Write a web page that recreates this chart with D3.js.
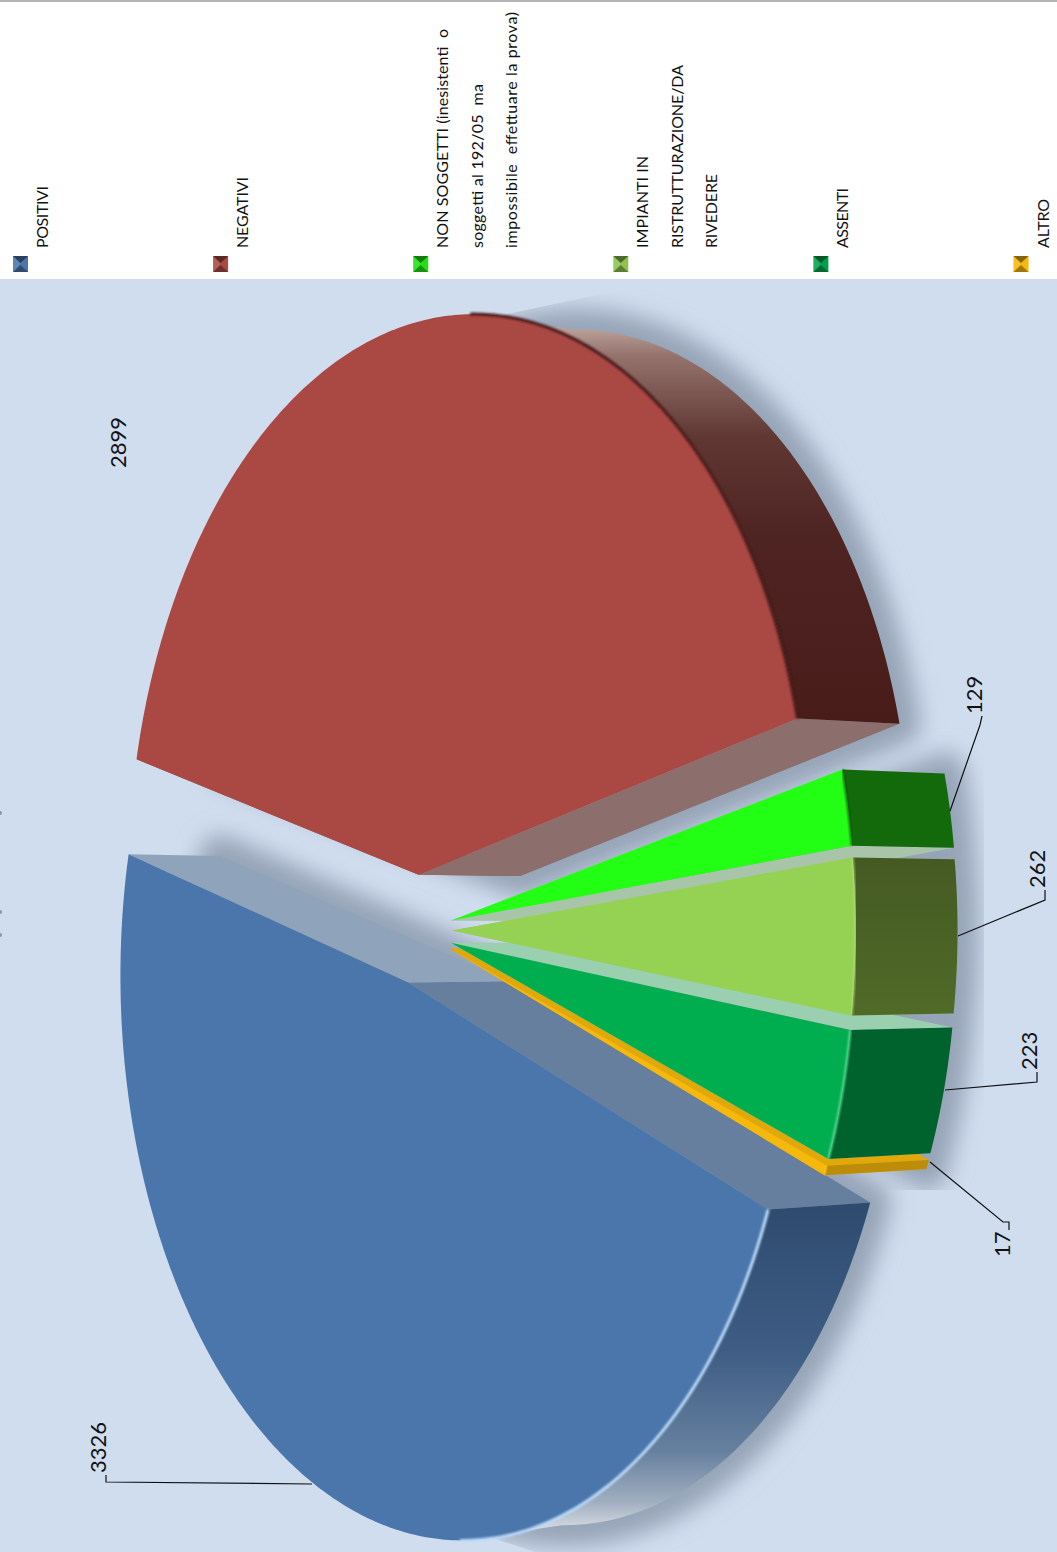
<!DOCTYPE html>
<html lang="it">
<head>
<meta charset="utf-8">
<title>Prove</title>
<script src="https://d3js.org/d3.v7.min.js"></script>
<style>
  html, body { margin: 0; padding: 0; background: #fff; }
  svg { display: block; }
  text { font-family: Lato, "Open Sans", sans-serif; fill: #111; }
</style>
</head>
<body>
<svg width="1057" height="1552"></svg>
<script>
// data
const categories = ['POSITIVI', 'NEGATIVI', 'NON SOGGETTI', 'IMPIANTI', 'ASSENTI', 'ALTRO'];
const values = [3326, 2899, 129, 262, 223, 17];
const legendLines = [
  ['POSITIVI'],
  ['NEGATIVI'],
  ['NON SOGGETTI (inesistenti  o', 'soggetti al 192/05  ma', 'impossibile  effettuare la prova)'],
  ['IMPIANTI IN', 'RISTRUTTURAZIONE/DA', 'RIVEDERE'],
  ['ASSENTI'],
  ['ALTRO']
];
// measured run of each legend line, the original font is wider than Lato
const legendLengths = [[62], [71], [219, 164, 236], [92, 183, 74], [60], [49]];

// colours per slice
const topColors  = ['#4a76ab', '#aa4844', '#22ff14', '#95d152', '#00ad4f', '#f6b80c'];
const wallColors = ['url(#wallBlue)', 'url(#wallRed)', '#136a0b', 'url(#wallImp)', '#00622c', '#bd8c08'];
const rimColors  = ['#bcdafa', '#4a1c1a', '#0f5a08', '#b9e37e', '#62e69c', '#ffd94a'];
const rimWidths  = [3, 3, 2, 1.5, 2, 1];
const swatchColors = ['#4a76ab', '#aa4844', '#22e014', '#8fc24e', '#00a04a', '#f6b80c'];
// the two cut faces of each slice: [start edge, end edge]
const cutColors = [
  ['#667f9f', '#8fa3bb'],
  ['#8c6e6c', '#8c6e6c'],
  ['#a9c5a9', '#a9c5a9'],
  ['#aac8a0', '#aac8a0'],
  ['#9ad0b0', '#9ad0b0'],
  ['#e0a80a', '#e0a80a']
];
// small slices are stacked so that the faces hide the right way
const drawOrder = [0, 1, 5, 4, 2, 3];

const svg = d3.select('svg');
const W = 1057, H = 1552, bandH = 278;

// projection of the tilted pie, fitted on the picture
const cx = 418, cy = 930;
const A = 333, B = 553, k = 0.148;
const explode = 0.1;
const depth = 102, shrink = 0.975;

const rad = d => d * Math.PI / 180;
const pie = d3.pie().sort(null).startAngle(rad(110)).endAngle(rad(470))(values);
const line = d3.line();

function project(sl, r, a) {
  const mid = (sl.startAngle + sl.endAngle) / 2;
  const u = explode * Math.sin(mid) + r * Math.sin(a);
  const v = -explode * Math.cos(mid) - r * Math.cos(a);
  const w = 1 - k * u;
  return [cx + A * u / w, cy + B * v / w];
}
function lower(p) {
  const dx = p[0] - cx;
  return [cx + dx + depth + 0.035 * Math.min(dx, 0), cy + (p[1] - cy) * shrink];
}
function anglesOf(sl) {
  const n = Math.max(6, Math.round((sl.endAngle - sl.startAngle) * 90));
  return d3.range(n + 1).map(i => sl.startAngle + (sl.endAngle - sl.startAngle) * i / n);
}
const rimOf = sl => anglesOf(sl).map(a => project(sl, 1, a));
// only the part of the rim that faces the viewer has an outer wall
const frontRimOf = sl => anglesOf(sl).filter(a => Math.sin(a) > 0.15).map(a => project(sl, 1, a));
const closed = pts => line(pts) + 'Z';

// background
svg.append('rect').attr('width', W).attr('height', H).attr('fill', '#fff');
svg.append('rect').attr('width', W).attr('height', 2).attr('fill', '#b4b4b4');
svg.append('rect').attr('y', bandH + 1).attr('width', W).attr('height', H - bandH).attr('fill', '#d0ddef');

// what is left of the cut off title at the page edge
svg.append('g').selectAll('circle').data([813, 912, 935]).join('circle')
  .attr('cx', 0).attr('cy', d => d).attr('r', 2).attr('fill', '#8a93a0');

const defs = svg.append('defs');
defs.append('filter').attr('id', 'blur').attr('x', '-20%').attr('y', '-20%').attr('width', '140%').attr('height', '140%')
  .append('feGaussianBlur').attr('stdDeviation', 11);
defs.append('filter').attr('id', 'soft').attr('x', '-5%').attr('y', '-5%').attr('width', '110%').attr('height', '110%')
  .append('feGaussianBlur').attr('stdDeviation', 0.9);
defs.append('clipPath').attr('id', 'plotClip').append('rect')
  .attr('y', bandH + 1).attr('width', W).attr('height', H - bandH);
defs.append('clipPath').attr('id', 'smallClip').append('rect')
  .attr('x', 440).attr('y', 720).attr('width', 544).attr('height', 470);
// the big shadow stops hard along the tangents at top and bottom
defs.append('clipPath').attr('id', 'bigClip').append('path')
  .attr('d', 'M503,315L670,279L1057,279L1057,1552L535,1552L490,1537L150,880L150,810L450,500Z');

function gradient(id, y1, y2, stops) {
  const g = defs.append('linearGradient').attr('id', id)
    .attr('gradientUnits', 'userSpaceOnUse')
    .attr('x1', 0).attr('x2', 0).attr('y1', y1).attr('y2', y2);
  stops.forEach(s => g.append('stop').attr('offset', s[0]).attr('stop-color', s[1]));
}
gradient('wallBlue', 1200, 1535, [[0, '#2e4a6e'], [0.45, '#3e5d84'], [0.75, '#66809f'], [0.9, '#a0aec0'], [1, '#dfe2e6']]);
gradient('wallRed', 315, 720, [[0, '#cdb6ae'], [0.1, '#95736d'], [0.3, '#603733'], [0.55, '#4e2422'], [1, '#481c19']]);
gradient('wallImp', 858, 1014, [[0, '#445a22'], [1, '#506a28']]);

// shadows of the lower faces
const shadow = svg.append('g').attr('clip-path', 'url(#plotClip)');
const shadowBig = shadow.append('g').attr('clip-path', 'url(#bigClip)').append('g').attr('filter', 'url(#blur)');
const shadowSmall = shadow.append('g').attr('clip-path', 'url(#smallClip)').append('g').attr('filter', 'url(#blur)');
pie.forEach((sl, i) => {
  const shape = [project(sl, 0, 0)].concat(rimOf(sl)).map(lower);
  (i < 2 ? shadowBig : shadowSmall).append('path')
    .attr('d', closed(shape))
    .attr('fill', '#96a4b7').attr('stroke', '#96a4b7')
    .attr('stroke-width', 42)
    .attr('stroke-linejoin', 'round');
});

// slices
const slices = svg.append('g').attr('clip-path', 'url(#plotClip)');
drawOrder.forEach(i => {
  const sl = pie[i];
  const g = slices.append('g').attr('class', 'slice');
  const apex = project(sl, 0, 0);
  const rim = rimOf(sl);
  const front = frontRimOf(sl);
  const first = rim[0], last = rim[rim.length - 1];

  // cut faces
  g.append('path').attr('fill', cutColors[i][0])
    .attr('d', closed([apex, first, lower(first), lower(apex)]));
  g.append('path').attr('fill', cutColors[i][1])
    .attr('d', closed([apex, last, lower(last), lower(apex)]));

  // outer face
  g.append('path').attr('fill', wallColors[i])
    .attr('d', closed(front.concat(front.map(lower).reverse())));

  // top face
  g.append('path').attr('fill', topColors[i])
    .attr('d', closed([apex].concat(rim)));

  // bright or dark edge along the rim
  g.append('path').attr('fill', 'none')
    .attr('stroke', rimColors[i]).attr('stroke-width', rimWidths[i])
    .attr('filter', 'url(#soft)')
    .attr('d', line(front));
});

// value labels with their leader lines
const valueLabels = [
  { value: values[0], at: [106, 1473], leader: [[106, 1475], [106, 1482], [312, 1484]] },
  { value: values[1], at: [126, 468], leader: [] },
  { value: values[2], at: [982, 714], leader: [[982, 716], [980, 725], [950, 811]] },
  { value: values[3], at: [1045, 888], leader: [[1045, 890], [1045, 900], [958, 936]] },
  { value: values[4], at: [1037, 1070], leader: [[1037, 1072], [1037, 1082], [945, 1090]] },
  { value: values[5], at: [1010, 1257], leader: [[1009, 1230], [1009, 1222], [1003, 1222], [930, 1162]] }
];
const labels = svg.append('g');
valueLabels.forEach(d => {
  if (d.leader.length) {
    labels.append('path').attr('d', line(d.leader))
      .attr('fill', 'none').attr('stroke', '#111').attr('stroke-width', 1.2);
  }
  labels.append('text')
    .attr('transform', 'translate(' + d.at[0] + ',' + d.at[1] + ') rotate(-90)')
    .attr('font-size', 22)
    .text(d.value);
});

// legend
const legendX = d3.scalePoint().domain(categories).range([20.5, 1021]);
const lineStep = 34.5;
const legend = svg.append('g');
categories.forEach((c, i) => {
  const x = legendX(c);
  const g = legend.append('g').attr('transform', 'translate(' + x + ',264)');
  g.append('rect').attr('x', -7.5).attr('y', -8).attr('width', 15).attr('height', 16).attr('fill', swatchColors[i]);
  g.append('path').attr('d', 'M-7.5,-8L7.5,-8L0,-1Z').attr('fill', '#000').attr('opacity', 0.45);
  g.append('path').attr('d', 'M-7.5,8L7.5,8L0,1Z').attr('fill', '#000').attr('opacity', 0.35);
  g.append('path').attr('d', 'M-7.5,-8L0,0L-7.5,8Z').attr('fill', '#fff').attr('opacity', 0.12);
  legendLines[i].forEach((t, j) => {
    legend.append('text')
      .attr('transform', 'translate(' + (x + 27.5 + j * lineStep) + ',248) rotate(-90)')
      .attr('font-size', 16)
      .attr('textLength', legendLengths[i][j])
      .attr('lengthAdjust', 'spacing')
      .style('white-space', 'pre')
      .text(t);
  });
});
</script>
</body>
</html>
